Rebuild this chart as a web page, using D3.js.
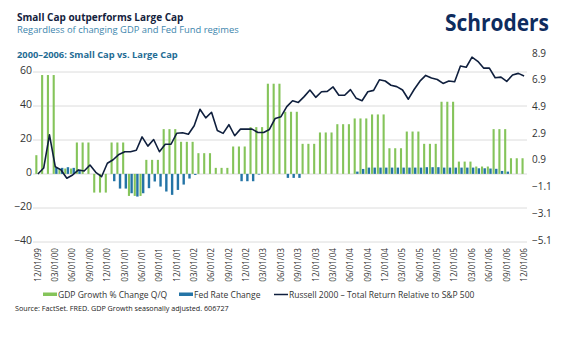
<!DOCTYPE html>
<html>
<head>
<meta charset="utf-8">
<script src="https://cdn.jsdelivr.net/npm/d3@7"></script>
<style>
  body { margin: 0; background: #fff; }
  svg text { font-family: "Open Sans", "Noto Sans", sans-serif; }
</style>
</head>
<body>
<div id="chart"></div>
<script>
// Monthly categories, Dec 1999 - Dec 2006
var months = d3.timeMonth.range(new Date(1999, 11, 1), new Date(2007, 0, 1))
    .map(d3.timeFormat("%m/%d/%y"));

// x axis labels (every quarter)
var tickLabels = ["12/01/99", "03/01/00", "06/01/00", "09/01/00", "12/01/00",
    "03/01/01", "06/01/01", "09/01/01", "12/01/01", "03/01/02", "06/01/02",
    "09/01/02", "12/01/02", "03/01/03", "06/01/03", "09/01/03", "12/01/03",
    "03/01/04", "06/01/04", "09/01/04", "12/01/04", "03/01/05", "06/01/05",
    "09/01/05", "12/01/05", "03/01/06", "06/01/06", "09/01/06", "12/01/06"];

var leftTicks = [-40, -20, 0, 20, 40, 60];
var rightTicks = [-5.1, -3.1, -1.1, 0.9, 2.9, 4.9, 6.9, 8.9];

// GDP growth % change Q/Q (right axis)
var gdpGrowth = [1.4,
    7.4, 7.4, 7.4, 0.4, 0.4, 0.4, 2.35, 2.35, 2.35, -1.4, -1.4, -1.4,
    2.35, 2.35, 2.35, -1.65, -1.65, -1.65, 1.05, 1.05, 1.05, 3.35, 3.35, 3.35,
    2.4, 2.4, 2.4, 1.55, 1.55, 1.55, 0.45, 0.45, 0.45, 2.05, 2.05, 2.05,
    3.5, 3.5, 3.5, 6.75, 6.75, 6.75, 4.65, 4.65, 4.65, 2.25, 2.25, 2.25,
    3.1, 3.1, 3.1, 3.72, 3.72, 3.72, 4.15, 4.15, 4.15, 4.45, 4.45, 4.45,
    1.92, 1.92, 1.92, 3.17, 3.17, 3.17, 2.25, 2.25, 2.25, 5.4, 5.4, 5.4,
    0.92, 0.92, 0.92, 0.55, 0.55, 0.55, 3.35, 3.35, 3.35, 1.17, 1.17, 1.17];

// Fed rate change (right axis)
var fedRateChange = [0, 0, 0,
    0.45, 0.45, 0.5, 0.45, 0.3,
    0, 0, 0, 0, 0,
    -0.55, -1.1, -1.1, -1.45, -1.7, -1.45, -1.07, -0.57, -0.95, -1.32, -1.57, -1.2, -0.8, -0.35, -0.08,
    0, 0, 0, 0, 0, 0, 0,
    -0.55, -0.55, -0.55, -0.05,
    0, 0, 0, 0,
    -0.3, -0.3, -0.3,
    0, 0, 0, 0, 0, 0, 0, 0, 0,
    0.17, 0.37, 0.47, 0.47, 0.47, 0.47, 0.47, 0.47, 0.47, 0.47, 0.47, 0.47,
    0.5, 0.5, 0.5, 0.47, 0.47, 0.47, 0.47, 0.47, 0.47,
    0.42, 0.42, 0.4, 0.38, 0.22, 0.17,
    0, 0, 0];

// Russell 2000 total return relative to S&P 500 (left axis)
var russellRelative = [0, 3.5, 23, 4.3, 2.4, -2.5, -0.6, 2.4, 1.8, 5.3, 1, -1.6,
    6.3, 8.4, 11.5, 13.1, 13.1, 14, 21.8, 16.4, 20.3, 13.1, 17.5, 17.5,
    24, 24.3, 23.4, 28.4, 38.1, 33, 36.3, 25.6, 23.9, 29, 22.5, 26.4,
    26.4, 26.4, 24.4, 24.4, 26.2, 32.7, 33.7, 39.6, 43.1, 42.1, 45.5, 49.4,
    45.1, 48.4, 48.6, 51.2, 46.3, 46.3, 49.6, 44.5, 43.1, 48.4, 49.2, 55.4,
    54.7, 52.2, 51.4, 49.4, 44, 49.7, 54.6, 58, 56.5, 55.6, 53.3, 54.7,
    54.3, 63.5, 62.8, 68.7, 66.3, 62.3, 62.3, 56.6, 57, 54.5, 58.2, 59.2, 57.7];

// svg size and plot area
var svgWidth = 582;
var svgHeight = 338;
var plot = { left: 35, right: 527, top: 55, bottom: 242 };

var svg = d3.select("#chart")
    .append("svg")
    .attr("width", svgWidth)
    .attr("height", svgHeight);

// scales
var xScale = d3.scaleBand()
    .domain(months)
    .range([plot.left, plot.right]);

var yLeft = d3.scaleLinear()
    .domain([-40, 70])
    .range([plot.bottom, plot.top]);

var yRight = d3.scaleLinear()
    .domain([-5.1, 8.9])
    .range([plot.bottom, plot.top]);

var center = d => xScale(d) + xScale.bandwidth() / 2;

// titles
svg.append("text")
    .attr("x", 17).attr("y", 21)
    .attr("font-size", "10px").attr("font-weight", "bold")
    .attr("fill", "#14223d")
    .text("Small Cap outperforms Large Cap");

svg.append("text")
    .attr("x", 17).attr("y", 33)
    .attr("font-size", "9.4px")
    .attr("fill", "#3d86ad")
    .text("Regardless of changing GDP and Fed Fund regimes");

svg.append("text")
    .attr("x", 17).attr("y", 57.5)
    .attr("font-size", "9.3px").attr("font-weight", "bold")
    .attr("fill", "#1f6c94")
    .text("2000\u20132006: Small Cap vs. Large Cap");

// logo text
svg.append("text")
    .attr("x", 445).attr("y", 31)
    .attr("font-size", "23px").attr("font-weight", "bold")
    .attr("fill", "#0e2c5e")
    .attr("textLength", 104).attr("lengthAdjust", "spacingAndGlyphs")
    .text("Schroders");

// gridlines
svg.append("g")
    .selectAll("line")
    .data(leftTicks)
    .enter()
    .append("line")
    .attr("x1", plot.left - 2)
    .attr("x2", plot.right)
    .attr("y1", d => yLeft(d))
    .attr("y2", d => yLeft(d))
    .attr("stroke", "#dcdcdc")
    .attr("stroke-width", 1);

// left axis
var leftAxis = svg.append("g")
    .attr("transform", `translate(${plot.left}, 0)`)
    .call(d3.axisLeft(yLeft).tickValues(leftTicks).tickSize(0).tickPadding(3));
leftAxis.select(".domain").remove();
leftAxis.selectAll("text")
    .attr("font-size", "10.5px")
    .attr("fill", "#333")
    .attr("dy", "0.1em");

// right axis
var rightAxis = svg.append("g")
    .attr("transform", `translate(${plot.right}, 0)`)
    .call(d3.axisRight(yRight).tickValues(rightTicks).tickFormat(d3.format(".1f")).tickSize(0).tickPadding(5));
rightAxis.select(".domain").remove();
rightAxis.selectAll("text")
    .attr("font-size", "10px")
    .attr("fill", "#333")
    .attr("dy", "0.1em");

// bottom axis with rotated labels
var bottomAxis = svg.append("g")
    .attr("transform", `translate(0, ${plot.bottom})`)
    .call(d3.axisBottom(xScale).tickValues(tickLabels).tickSize(0));
bottomAxis.select(".domain").remove();
bottomAxis.selectAll("text")
    .attr("font-size", "8.1px")
    .attr("fill", "#333")
    .attr("transform", "rotate(-90)")
    .attr("x", -6)
    .attr("y", 0)
    .attr("dy", "0.35em")
    .attr("text-anchor", "end");

// GDP bars
svg.append("g")
    .selectAll("rect")
    .data(months)
    .enter()
    .append("rect")
    .attr("x", d => center(d) - 2.6)
    .attr("width", 2.1)
    .attr("y", (d, i) => yRight(Math.max(0, gdpGrowth[i])))
    .attr("height", (d, i) => Math.abs(yRight(gdpGrowth[i]) - yRight(0)))
    .attr("fill", "#85c45a");

// Fed rate bars
svg.append("g")
    .selectAll("rect")
    .data(months)
    .enter()
    .append("rect")
    .attr("x", d => center(d) - 0.1)
    .attr("width", 2.4)
    .attr("y", (d, i) => yRight(Math.max(0, fedRateChange[i])))
    .attr("height", (d, i) => Math.abs(yRight(fedRateChange[i]) - yRight(0)))
    .attr("fill", "#2474a6");

// Russell line
var line = d3.line()
    .x((d, i) => center(months[i]))
    .y(d => yLeft(d));

svg.append("path")
    .datum(russellRelative)
    .attr("d", line)
    .attr("fill", "none")
    .attr("stroke", "#0f1f3d")
    .attr("stroke-width", 1.6)
    .attr("stroke-linejoin", "round");

// legend
var legend = svg.append("g").attr("font-size", "8.5px").attr("fill", "#333");

legend.append("rect").attr("x", 43).attr("y", 292.5).attr("width", 14).attr("height", 3.5).attr("fill", "#85c45a");
legend.append("text").attr("x", 58).attr("y", 297.5).text("GDP Growth % Change Q/Q");

legend.append("rect").attr("x", 179).attr("y", 292.5).attr("width", 14).attr("height", 3.5).attr("fill", "#2474a6");
legend.append("text").attr("x", 194).attr("y", 297.5).text("Fed Rate Change");

legend.append("line").attr("x1", 274).attr("x2", 288).attr("y1", 294.5).attr("y2", 294.5)
    .attr("stroke", "#0f1f3d").attr("stroke-width", 1.5);
legend.append("text").attr("x", 289).attr("y", 297.5).text("Russell 2000 \u2013 Total Return Relative to S&P 500");

// source note
svg.append("text")
    .attr("x", 15).attr("y", 311)
    .attr("font-size", "7.2px")
    .attr("fill", "#222")
    .text("Source: FactSet. FRED. GDP Growth seasonally adjusted. 606727");
</script>
</body>
</html>
